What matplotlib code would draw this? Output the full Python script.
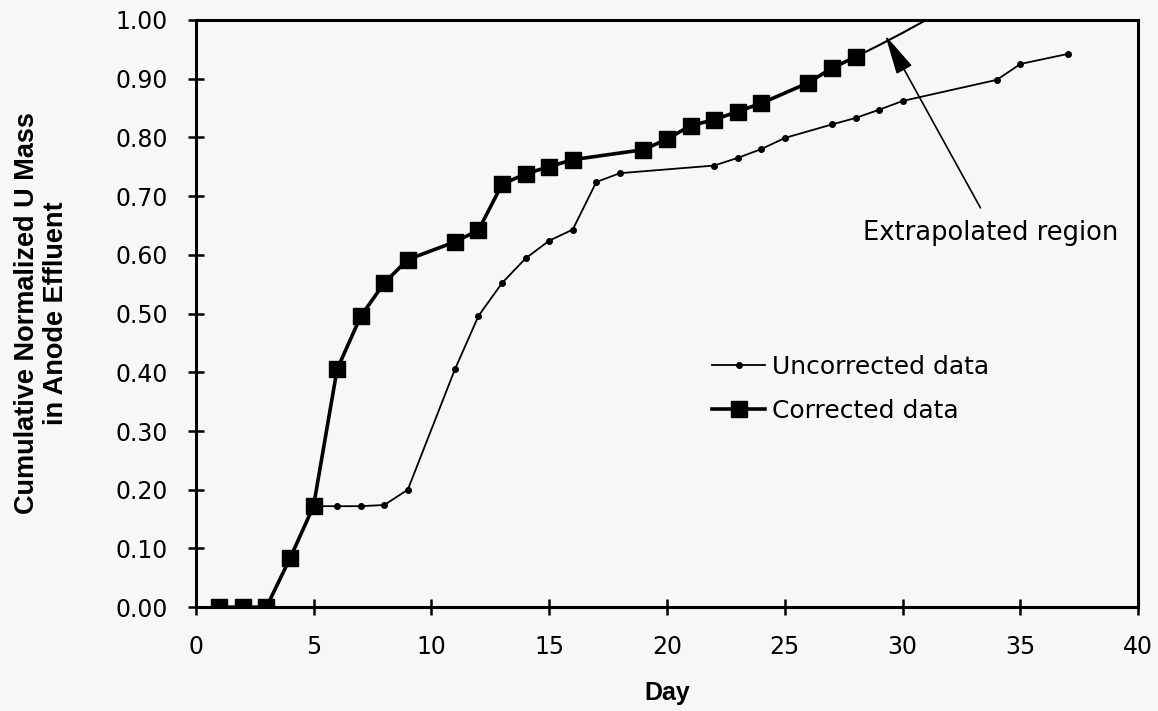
import numpy as np
import matplotlib.pyplot as plt

# data
corr_day = [1, 2, 3, 4, 5, 6, 7, 8, 9, 11, 12, 13, 14, 15, 16, 19, 20, 21, 22, 23, 24, 26, 27, 28]
corr_val = [0.0, 0.0, 0.0, 0.083, 0.172, 0.405, 0.495, 0.552, 0.592, 0.622, 0.642, 0.72, 0.738,
            0.75, 0.762, 0.779, 0.797, 0.82, 0.83, 0.844, 0.858, 0.893, 0.918, 0.937]
extrap_day = [28, 29, 30, 31, 32]
extrap_val = [0.937, 0.957, 0.978, 1.0, 1.02]

unc_day = [1, 2, 3, 4, 5, 6, 7, 8, 9, 11, 12, 13, 14, 15, 16, 17, 18, 22, 23, 24, 25, 27, 28, 29, 30, 34, 35, 37]
unc_val = [0.0, 0.0, 0.0, 0.083, 0.172, 0.172, 0.172, 0.174, 0.20, 0.405, 0.496, 0.552, 0.594,
           0.624, 0.643, 0.724, 0.739, 0.752, 0.765, 0.78, 0.799, 0.822, 0.833, 0.847, 0.862,
           0.898, 0.925, 0.942]

x_ticks = np.arange(0, 41, 5)
y_ticks = np.arange(0, 1.01, 0.1)

plt.rcParams['font.family'] = ['DejaVu Sans']

fig = plt.figure(figsize=(11.58, 7.11), dpi=100)
fig.patch.set_facecolor('#f7f7f7')
ax = fig.add_axes([0.169, 0.146, 0.814, 0.826])
ax.set_facecolor('#f7f7f7')

ax.plot(unc_day, unc_val, color='black', lw=1.3, marker='o', ms=4, label='Uncorrected data')
ax.plot(corr_day, corr_val, color='black', lw=2.6, marker='s', ms=11, label='Corrected data')
ax.plot(extrap_day, extrap_val, color='black', lw=1.5, clip_on=True)

ax.set_xlim(0, 40)
ax.set_ylim(0, 1.0)
ax.set_xticks(x_ticks)
ax.set_yticks(y_ticks)
ax.set_yticklabels([f'{v:.2f}' for v in y_ticks])
ax.tick_params(direction='inout', length=12, width=1.8, labelsize=17)
ax.tick_params(axis='x', pad=14)
ax.tick_params(axis='y', pad=14)
for s in ax.spines.values():
    s.set_linewidth(2.2)

ax.set_xlabel('Day', fontsize=18, fontweight='bold', family='Liberation Sans', labelpad=16)
ax.set_ylabel('Cumulative Normalized U Mass\nin Anode Effluent', fontsize=19.5,
              fontweight='bold', family='Liberation Sans', linespacing=1.15)
ax.yaxis.label.set_va('center')
ax.yaxis.set_label_coords(-0.164, 0.5)

ax.annotate('', xy=(29.26, 0.974), xytext=(33.3, 0.68),
            arrowprops=dict(arrowstyle='-|>,head_length=1.0,head_width=0.22', color='black',
                            lw=1.2, mutation_scale=25, shrinkA=0, shrinkB=0))
ax.text(28.3, 0.637, 'Extrapolated region', fontsize=18.5, va='center', ha='left')

ax.legend(loc='upper left', bbox_to_anchor=(0.548, 0.43), frameon=False, fontsize=18,
          borderpad=0, borderaxespad=0, handlelength=2.1, handletextpad=0.3, labelspacing=0.8)

fig.savefig('out.png', dpi=100, facecolor=fig.get_facecolor())
